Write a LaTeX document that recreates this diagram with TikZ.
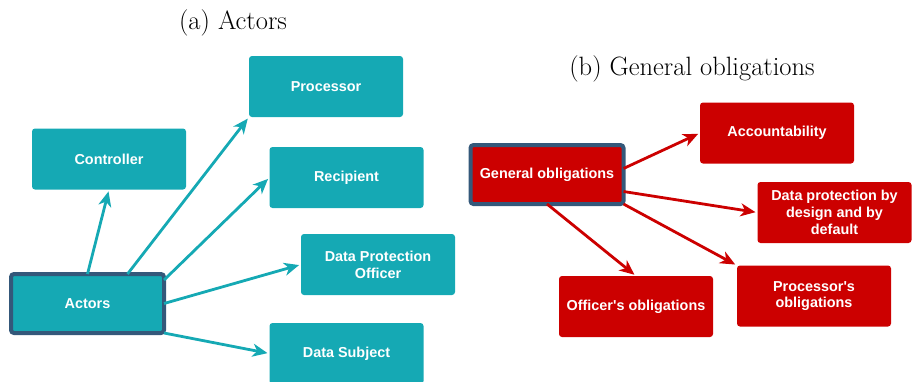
\documentclass[tikz,border=0pt]{standalone}
\usepackage{fontspec}
\newfontfamily\boxfont{Liberation Sans}
\usetikzlibrary{arrows.meta}
\definecolor{tealbox}{HTML}{15A9B4}
\definecolor{redbox}{HTML}{CC0000}
\definecolor{darkedge}{HTML}{34587A}
\begin{document}
\begin{tikzpicture}[x=1pt,y=-1pt,
  box/.style={rectangle, rounded corners=3pt, minimum width=154pt, minimum height=61pt,
    inner sep=2pt, outer sep=0pt, text=white, align=center,
    font=\boxfont\bfseries\fontsize{14.4}{16.7}\selectfont},
  tbox/.style={box, fill=tealbox},
  rbox/.style={box, fill=redbox},
  hub/.style={draw=darkedge, line width=4pt, minimum width=153pt, minimum height=59pt},
  tarr/.style={draw=tealbox, line width=2.8pt, shorten >=2pt,
    -{Stealth[length=15pt,width=13pt,inset=4.5pt]}},
  rarr/.style={draw=redbox, line width=2.8pt, shorten >=2pt,
    -{Stealth[length=15pt,width=13pt,inset=4.5pt]}},
  ttl/.style={font=\fontsize{26.5}{30}\selectfont, inner sep=0pt}]
\useasboundingbox (0,0) rectangle (912,381);
% titles
\node[ttl] (ta) at (233,22.5) {(a) Actors};
\node[ttl] (tb) at (692,68.5) {(b) General obligations};
% (a) Actors
\node[tbox] (proc) at (326,86.5) {Processor};
\node[tbox] (ctrl) at (109,159) {Controller};
\node[tbox] (rec) at (346.5,177.5) {Recipient};
\node[tbox] (dpo) at (378,264.5) {Data Protection\\Officer};
\node[tbox] (ds) at (346.5,353.5) {Data Subject};
\node[tbox,hub] (act) at (87.5,303.5) {Actors};
\draw[tarr] (act.north) -- (ctrl.south);
\draw[tarr] ([xshift=40pt]act.north) -- (proc.south west);
\draw[tarr] ([yshift=-6pt]act.north east) -- (rec.west);
\draw[tarr] (act.east) -- (dpo.west);
\draw[tarr] (act.south east) -- (ds.west);
% (b) General obligations
\node[rbox] (acc) at (777,133) {Accountability};
\node[rbox] (dp) at (834.5,212.5) {Data protection by\\design and by\\default};
\node[rbox] (po) at (814,296) {Processor's\\obligations};
\node[rbox] (oo) at (636,306.5) {Officer's obligations};
\node[rbox,hub] (go) at (547,174.5) {General obligations};
\draw[rarr] ([yshift=6pt]go.east) -- (acc.west);
\draw[rarr] ([yshift=-17pt]go.east) -- (dp.west);
\draw[rarr] (go.south east) -- (po.north west);
\draw[rarr] (go.south) -- (oo.north);
\end{tikzpicture}
\end{document}
